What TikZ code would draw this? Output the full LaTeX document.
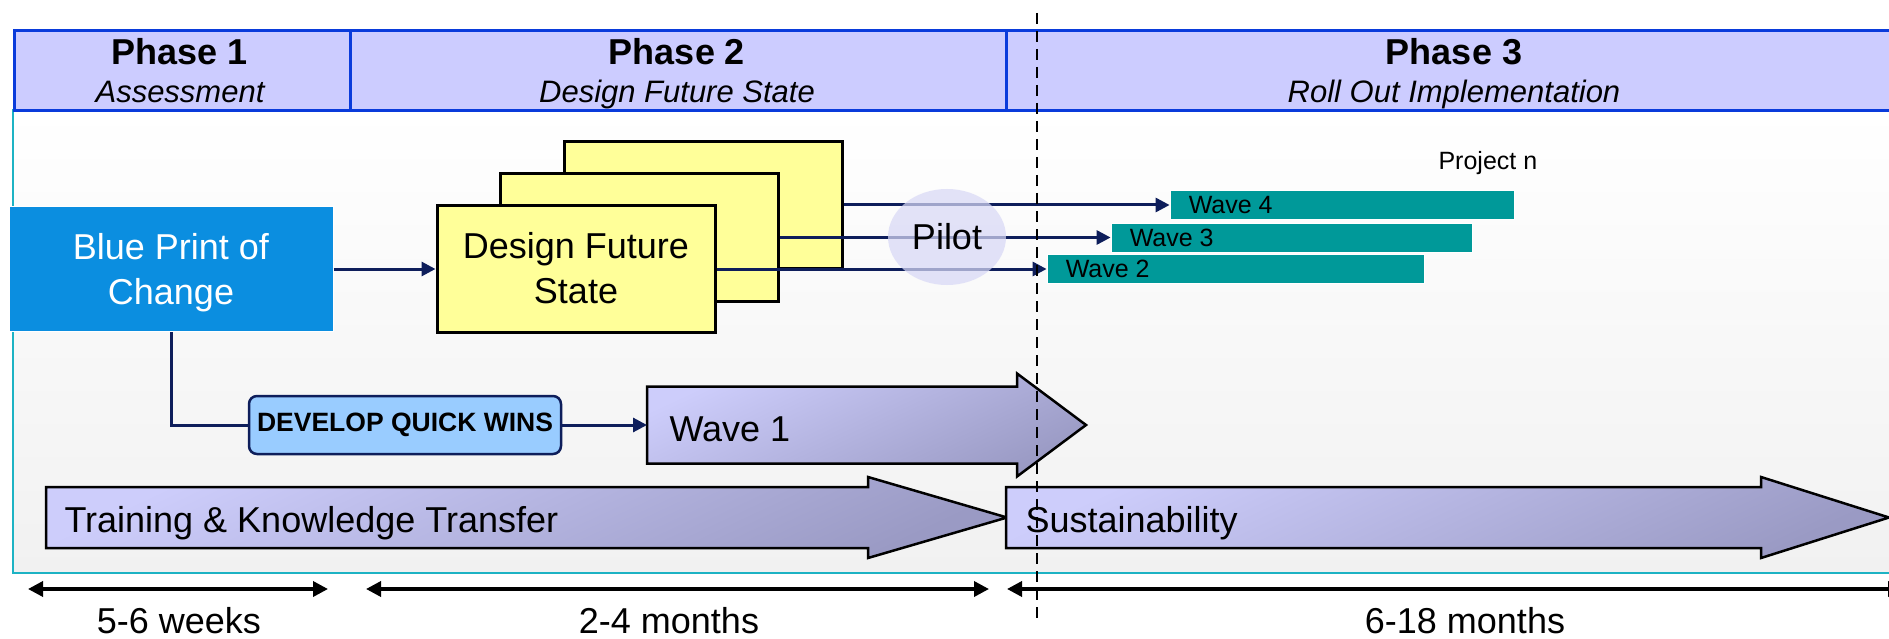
\documentclass[tikz,border=0pt]{standalone}
\usepackage{fontspec}
\setmainfont{Liberation Sans}
\usetikzlibrary{arrows.meta,shapes.geometric}

\definecolor{hdrfill}{HTML}{CCCCFF}
\definecolor{hdrline}{HTML}{0A3BDB}
\definecolor{frameteal}{HTML}{1DB3C4}
\definecolor{bpblue}{HTML}{0B8EE0}
\definecolor{padyellow}{HTML}{FFFF99}
\definecolor{navy}{HTML}{0E1E5B}
\definecolor{barteal}{HTML}{009999}
\definecolor{pilotfill}{HTML}{D8D8F6}
\definecolor{qwfill}{HTML}{99CCFF}
\definecolor{lavtop}{HTML}{CDCDFB}
\definecolor{lavbot}{HTML}{9A9AC4}
\definecolor{bgbot}{HTML}{F1F1F1}

\newcommand{\fsBig}{\fontsize{36}{45}\selectfont}
\newcommand{\fsSub}{\fontsize{31}{36}\selectfont}
\newcommand{\fsMid}{\fontsize{25}{30}\selectfont}
\newcommand{\fsQw}{\fontsize{26.5}{30}\selectfont}

% block arrow: tail x, head-base x, tip x, centre y, half body, half head
\newcommand{\fatarrow}[6]{%
  \draw[bigarrow] (#1,#4-#5) -- (#2,#4-#5) -- (#2,#4-#6) -- (#3,#4)
    -- (#2,#4+#6) -- (#2,#4+#5) -- (#1,#4+#5) -- cycle;}

\begin{document}
\begin{tikzpicture}[x=1pt,y=-1pt,
  hdrcell/.style={draw=hdrline, line width=3pt, fill=hdrfill, anchor=north west,
    minimum height=80pt, inner sep=0pt},
  phasetitle/.style={font=\fsBig\bfseries, anchor=base},
  phasesub/.style={font=\fsSub\itshape, anchor=base},
  bpbox/.style={fill=bpblue, draw=white, line width=1pt, text=white, align=center,
    font=\fsBig, minimum width=324pt, minimum height=125pt, inner sep=0pt},
  padbox/.style={fill=padyellow, draw=black, line width=3pt, minimum width=278pt,
    minimum height=127pt, inner sep=0pt},
  wavebar/.style={fill=barteal, draw=white, line width=0.8pt, minimum height=29pt,
    inner sep=0pt},
  wavetxt/.style={font=\fsMid, anchor=west, inner sep=0pt},
  flow/.style={draw=navy, line width=3pt, -{Triangle[length=14pt,width=14pt]}},
  link/.style={draw=navy, line width=3pt},
  qwbox/.style={fill=qwfill, draw=navy, line width=2.5pt, rounded corners=8pt,
    minimum width=312pt, minimum height=58pt, inner sep=0pt, font=\fsQw\bfseries},
  bigarrow/.style={draw=black, line width=2.5pt, line join=miter,
    top color=lavtop, bottom color=lavbot, shading angle=25},
  span/.style={draw=black, line width=3.5pt,
    {Triangle[length=15pt,width=15pt]}-{Triangle[length=15pt,width=15pt]}},
  spantxt/.style={font=\fsBig, anchor=base},
  divider/.style={draw=black, line width=2pt, dash pattern=on 11pt off 7pt},
  framestroke/.style={draw=frameteal, line width=2.5pt}
]
\useasboundingbox (0,0) rectangle (1889,639);

% working area
\shade[top color=white, bottom color=bgbot] (13,109) rectangle (1889,573);
\draw[framestroke] (13,109) -- (13,573) -- (1895,573);

% phase header
\node[hdrcell, minimum width=336pt] (ph1) at (13,29) {};
\node[hdrcell, minimum width=656pt] (ph2) at (349,29) {};
\node[hdrcell, minimum width=920pt] (ph3) at (1005,29) {};
\node[phasetitle] (ph1a) at (180,65) {Phase 1};
\node[phasesub] (ph1b) at (180,103) {Assessment};
\node[phasetitle] (ph2a) at (677,65) {Phase 2};
\node[phasesub] (ph2b) at (677,103) {Design Future State};
\node[phasetitle] (ph3a) at (1454,65) {Phase 3};
\node[phasesub] (ph3b) at (1454,103) {Roll Out Implementation};

% blueprint and design stack
\node[bpbox, text depth=0pt] (bp) at (171,269) {Blue Print of\\Change};
\node[padbox] (dfs3) at (703,205) {};
\node[padbox] (dfs2) at (639.5,237.5) {};
\node[padbox, align=center, font=\fsBig, text depth=3pt] (dfs1) at (576,269) {Design Future\\State};

% roll-out waves
\node[wavebar, minimum width=344pt] (w4) at (1342,205) {};
\node[wavebar, minimum width=361pt] (w3) at (1291.5,237.5) {};
\node[wavebar, minimum width=377pt] (w2) at (1235.5,269) {};
\node[wavetxt] (w4t) at ([xshift=19pt]w4.west) {Wave 4};
\node[wavetxt] (w3t) at ([xshift=19pt]w3.west) {Wave 3};
\node[wavetxt] (w2t) at ([xshift=19pt]w2.west) {Wave 2};
\node[font=\fsMid, anchor=base west] (projn) at (1435,170) {Project n};

\draw[flow] (bp.east) -- (dfs1.west);
\draw[flow] (dfs3.east) -- (w4.west);
\draw[flow] (dfs2.east) -- (w3.west);
\draw[flow] (dfs1.east) -- (w2.west);

\node[ellipse, fill=pilotfill, fill opacity=0.72, text opacity=1, font=\fsBig,
  minimum width=118pt, minimum height=96pt, inner sep=0pt] (pilot) at (947,237) {Pilot};

% quick wins and long-running streams
\fatarrow{647}{1017}{1086}{425}{38.5}{51.5}
\coordinate (w1in) at (647,425);
\node[font=\fsBig, anchor=base west] (w1t) at (666,441) {Wave 1};

\node[qwbox] (dqw) at (405,425) {DEVELOP QUICK WINS};
\draw[link] (bp.south) |- (dqw.west);
\draw[flow] (dqw.east) -- (w1in);

\fatarrow{46}{868}{1007}{517.5}{30.5}{40.5}
\node[font=\fsBig, anchor=base west] (trt) at (61,532) {Training \& Knowledge Transfer};
\fatarrow{1006}{1761}{1889}{517.5}{30.5}{40.5}
\node[font=\fsBig, anchor=base west] (sust) at (1022,532) {Sustainability};

% durations
\coordinate (d1a) at (28,589);  \coordinate (d1b) at (328,589);
\coordinate (d2a) at (366,589); \coordinate (d2b) at (989,589);
\coordinate (d3a) at (1007,589); \coordinate (d3b) at (1903,589);
\draw[span] (d1a) -- (d1b);
\draw[span] (d2a) -- (d2b);
\draw[span] (d3a) -- (d3b);
\node[spantxt] (d1t) at (179,633) {5-6 weeks};
\node[spantxt] (d2t) at (669,633) {2-4 months};
\node[spantxt] (d3t) at (1465,633) {6-18 months};

% phase cut-over marker
\coordinate (cutTop) at (1037,13);
\coordinate (cutBot) at (1037,620);
\draw[divider] (cutTop) -- (cutBot);
\end{tikzpicture}
\end{document}
